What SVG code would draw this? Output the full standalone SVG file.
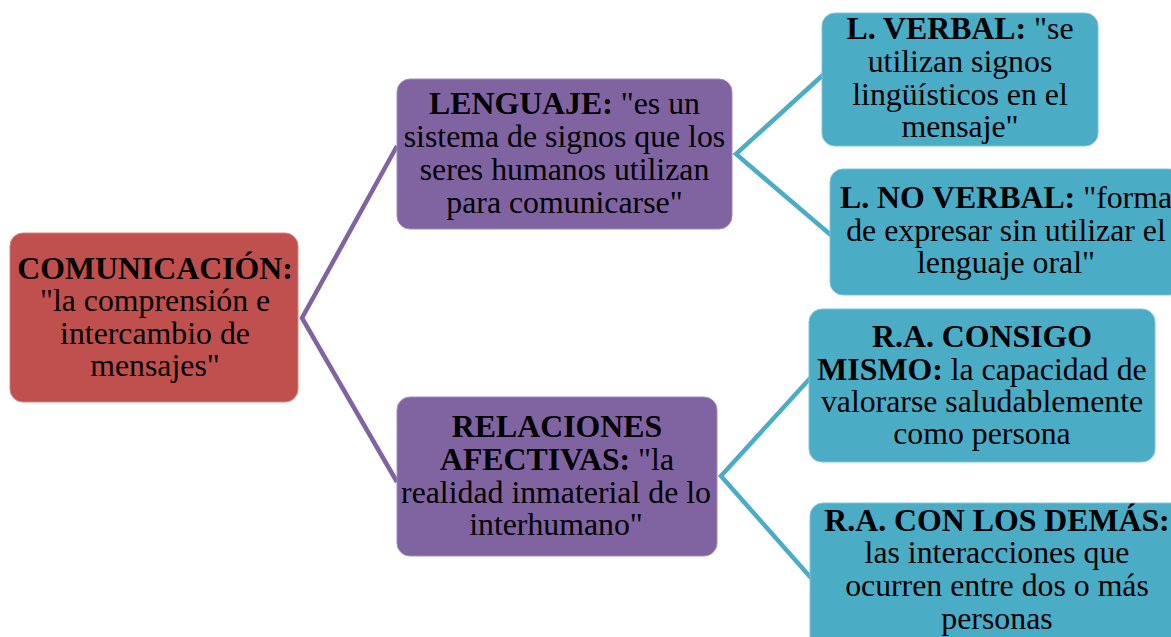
<svg xmlns="http://www.w3.org/2000/svg" width="1171" height="637" viewBox="0 0 1171 637">
<style>
.t{font-family:"Liberation Serif","Times New Roman",serif;font-size:31.8px;fill:#000;text-anchor:middle}
.b{font-weight:bold}
.red{fill:#C0504D;stroke:#D5837F;stroke-width:1}
.pur{fill:#8064A2;stroke:#A08BBB;stroke-width:1}
.teal{fill:#4BACC6;stroke:#7FC4D7;stroke-width:1}
.cp{fill:none;stroke:#8064A2;stroke-width:4.5;stroke-linejoin:miter}
.ct{fill:none;stroke:#4BACC6;stroke-width:4.5;stroke-linejoin:miter}
</style>
<rect width="1171" height="637" fill="#fff"/>
<g id="connectors">
<polyline class="cp" points="397,146 302,318 397,482"/>
<polyline class="ct" points="824,74 736,154 832,236"/>
<polyline class="ct" points="814,374 721,476 812,579"/>
</g>
<g id="comunicacion">
<rect class="red" x="10" y="233" width="288" height="169" rx="13"/>
<text class="t"><tspan x="155" y="278.5" class="b">COMUNICACIÓN:</tspan><tspan x="155" y="311">"la comprensión e</tspan><tspan x="155" y="343.5">intercambio de</tspan><tspan x="155" y="376">mensajes"</tspan></text>
</g>
<g id="lenguaje">
<rect class="pur" x="397" y="79" width="335" height="150" rx="13"/>
<text class="t"><tspan x="564.5" y="114" class="b">LENGUAJE:</tspan><tspan> "es un</tspan></text>
<text class="t"><tspan x="564.5" y="147">sistema de signos que los</tspan><tspan x="564.5" y="180">seres humanos utilizan</tspan><tspan x="564.5" y="213">para comunicarse"</tspan></text>
</g>
<g id="relaciones">
<rect class="pur" x="397" y="397" width="320" height="159" rx="13"/>
<text class="t"><tspan x="557" y="437" class="b">RELACIONES</tspan></text>
<text class="t"><tspan x="557" y="470" class="b">AFECTIVAS:</tspan><tspan> "la</tspan></text>
<text class="t"><tspan x="556" y="503">realidad inmaterial de lo</tspan><tspan x="556" y="535">interhumano"</tspan></text>
</g>
<g id="l-verbal">
<rect class="teal" x="822" y="13" width="276" height="133" rx="13"/>
<text class="t"><tspan x="960" y="39" class="b">L. VERBAL:</tspan><tspan> "se</tspan></text>
<text class="t"><tspan x="960" y="72">utilizan signos</tspan><tspan x="960" y="105">lingüísticos en el</tspan><tspan x="960" y="137">mensaje"</tspan></text>
</g>
<g id="l-no-verbal">
<rect class="teal" x="830" y="169" width="352" height="126" rx="13"/>
<text class="t"><tspan x="1006" y="208" class="b">L. NO VERBAL:</tspan><tspan> "forma</tspan></text>
<text class="t"><tspan x="1006" y="241">de expresar sin utilizar el</tspan><tspan x="1006" y="273">lenguaje oral"</tspan></text>
</g>
<g id="ra-consigo">
<rect class="teal" x="809" y="309" width="346" height="153" rx="13"/>
<text class="t"><tspan x="982" y="347" class="b">R.A. CONSIGO</tspan></text>
<text class="t"><tspan x="982" y="380" class="b">MISMO:</tspan><tspan> la capacidad de</tspan></text>
<text class="t"><tspan x="982" y="412">valorarse saludablemente</tspan><tspan x="982" y="444">como persona</tspan></text>
</g>
<g id="ra-demas">
<rect class="teal" x="810" y="503" width="374" height="150" rx="13"/>
<text class="t"><tspan x="997" y="531" class="b">R.A. CON LOS DEMÁS:</tspan><tspan x="997" y="563">las interacciones que</tspan><tspan x="997" y="596">ocurren entre dos o más</tspan><tspan x="997" y="629">personas</tspan></text>
</g>
</svg>
